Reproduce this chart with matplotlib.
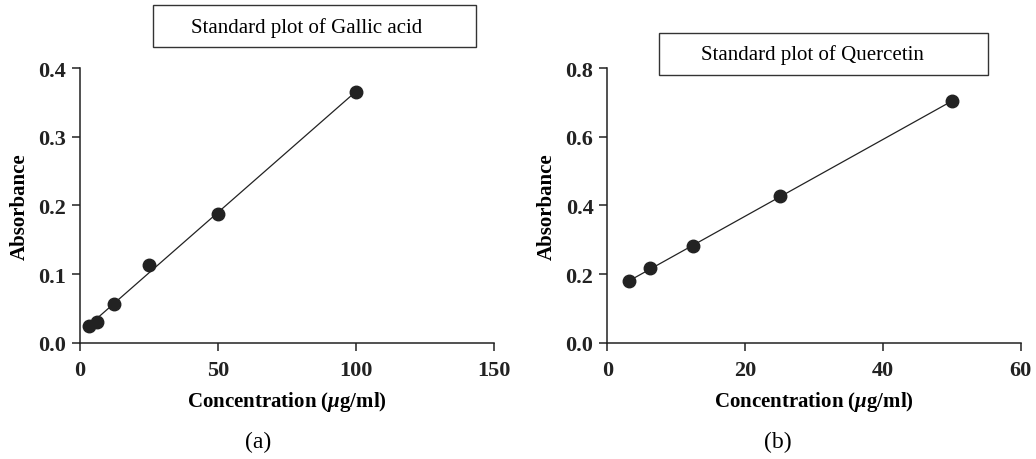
import matplotlib
matplotlib.use("Agg")
import matplotlib.pyplot as plt
from matplotlib.patches import Rectangle
import numpy as np

plt.rcParams['font.family'] = ['Liberation Serif', 'DejaVu Serif']
plt.rcParams['mathtext.fontset'] = 'custom'
plt.rcParams['mathtext.rm'] = 'Liberation Serif:bold'
plt.rcParams['mathtext.it'] = 'Liberation Serif:italic:bold'
plt.rcParams['mathtext.bf'] = 'Liberation Serif:bold'

# data
gallic_conc = [3.125, 6.25, 12.5, 25, 50, 100]
gallic_abs = [0.024, 0.031, 0.057, 0.113, 0.187, 0.365]
quer_conc = [3.125, 6.25, 12.5, 25, 50]
quer_abs = [0.180, 0.217, 0.282, 0.427, 0.703]

titles = ["Standard plot of Gallic acid", "Standard plot of Quercetin"]
panel_labels = ["(a)", "(b)"]
xlims = [(0, 150), (0, 60)]
ylims = [(0, 0.4), (0, 0.8)]
xticks = [[0, 50, 100, 150], [0, 20, 40, 60]]
yticks = [[0.0, 0.1, 0.2, 0.3, 0.4], [0.0, 0.2, 0.4, 0.6, 0.8]]

dark = '#222222'

fig = plt.figure(figsize=(10.36, 4.6), dpi=100)
ax1 = fig.add_axes([0.0772, 0.2522, 0.3996, 0.5978])
ax2 = fig.add_axes([0.5862, 0.2522, 0.3990, 0.5978])

datasets = [(gallic_conc, gallic_abs), (quer_conc, quer_abs)]
for i, ax in enumerate([ax1, ax2]):
    x, y = datasets[i]
    # linear fit
    k, b = np.polyfit(x, y, 1)
    xf = np.array([x[0], x[-1]])
    ax.plot(xf, k * xf + b, color=dark, lw=0.9, zorder=2)
    ax.plot(x, y, 'o', color=dark, ms=9, zorder=3, clip_on=False)

    ax.set_xlim(*xlims[i])
    ax.set_ylim(*ylims[i])
    ax.set_xticks(xticks[i])
    ax.set_yticks(yticks[i])
    ax.set_yticklabels([f"{v:.1f}" for v in yticks[i]])
    ax.spines['top'].set_visible(False)
    ax.spines['right'].set_visible(False)
    for s in ['left', 'bottom']:
        ax.spines[s].set_linewidth(1.1)
        ax.spines[s].set_color(dark)
    ax.tick_params(direction='out', length=6, width=1.1, colors=dark,
                   labelsize=16, pad=4)
    ax.tick_params(axis='x', pad=6)
    for lab in ax.get_xticklabels() + ax.get_yticklabels():
        lab.set_fontweight('bold')
    ax.set_ylabel("Absorbance", fontsize=15, fontweight='bold', labelpad=6)
    ax.set_xlabel(r"Concentration ($\mu$g/ml)", fontsize=15, fontweight='bold', labelpad=7)

# title boxes
fig.add_artist(Rectangle((0.1477, 0.8957), 0.3118, 0.0913, transform=fig.transFigure,
                         fill=False, ec='#333333', lw=1.0))
fig.add_artist(Rectangle((0.6361, 0.8348), 0.3176, 0.0913, transform=fig.transFigure,
                         fill=False, ec='#333333', lw=1.0))
fig.text(0.296, 0.939, titles[0], ha='center', va='center', fontsize=15)
fig.text(0.784, 0.880, titles[1], ha='center', va='center', fontsize=15)

fig.text(0.249, 0.039, panel_labels[0], ha='center', va='center', fontsize=17)
fig.text(0.751, 0.039, panel_labels[1], ha='center', va='center', fontsize=17)

fig.savefig("out.png", dpi=100)
